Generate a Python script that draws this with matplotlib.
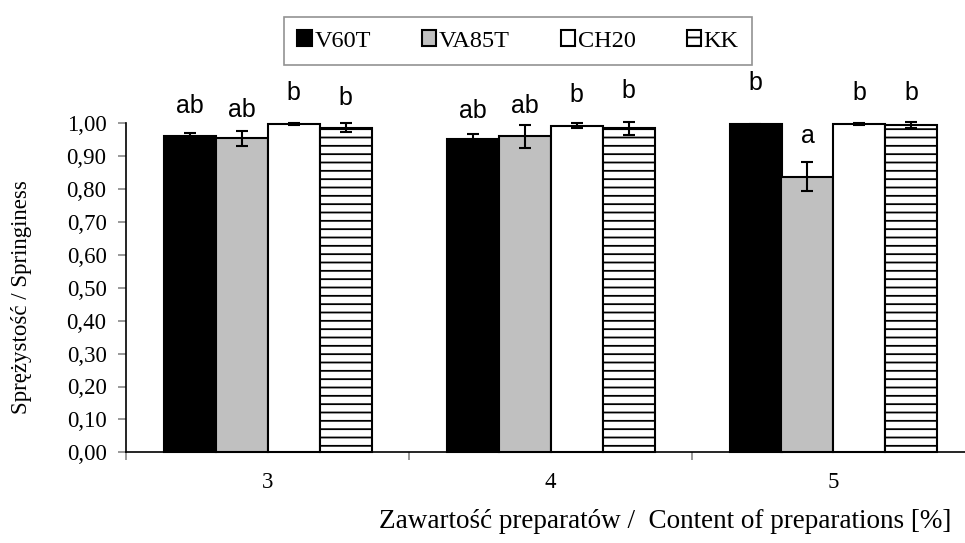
import matplotlib
matplotlib.use("Agg")
import matplotlib.pyplot as plt
import numpy as np

categories = ["3", "4", "5"]
series = ["V60T", "VA85T", "CH20", "KK"]
values = {
    "V60T":  [0.960, 0.952, 0.997],
    "VA85T": [0.954, 0.960, 0.838],
    "CH20":  [0.999, 0.993, 0.998],
    "KK":    [0.987, 0.985, 0.995],
}
errors = {
    "V60T":  [0.011, 0.014, 0.002],
    "VA85T": [0.023, 0.035, 0.043],
    "CH20":  [0.003, 0.008, 0.002],
    "KK":    [0.013, 0.020, 0.008],
}
letters = {
    "V60T":  ["ab", "ab", "b"],
    "VA85T": ["ab", "ab", "a"],
    "CH20":  ["b", "b", "b"],
    "KK":    ["b", "b", "b"],
}
letter_y = {
    "V60T":  [1.016, 1.002, 1.086],
    "VA85T": [1.005, 1.015, 0.924],
    "CH20":  [1.056, 1.049, 1.056],
    "KK":    [1.040, 1.061, 1.056],
}
yticks = [0.0, 0.1, 0.2, 0.3, 0.4, 0.5, 0.6, 0.7, 0.8, 0.9, 1.0]
ytick_labels = ["0,00", "0,10", "0,20", "0,30", "0,40", "0,50", "0,60", "0,70", "0,80", "0,90", "1,00"]

styles = {
    "V60T":  dict(facecolor="black", edgecolor="black", hatch=None),
    "VA85T": dict(facecolor="#c0c0c0", edgecolor="black", hatch=None),
    "CH20":  dict(facecolor="white", edgecolor="black", hatch=None),
    "KK":    dict(facecolor="white", edgecolor="black", hatch="--"),
}

plt.rcParams["hatch.color"] = "#333333"
plt.rcParams["hatch.linewidth"] = 1.3

serif = ["Liberation Serif", "DejaVu Serif"]
sans = ["Liberation Sans", "DejaVu Sans"]

fig = plt.figure(figsize=(9.65, 5.43), dpi=100)
ax = fig.add_axes([126 / 965, 1 - 452.3 / 543, 839 / 965, (452.3 - 123.3) / 543])

w = 52 / 283
x = np.arange(len(categories))
handles = []
for i, s in enumerate(series):
    pos = x + (i - 1.5) * w
    st = styles[s]
    b = ax.bar(pos, values[s], width=w, facecolor=st["facecolor"], edgecolor=st["edgecolor"],
               hatch=st["hatch"], linewidth=1.5, zorder=2, clip_on=False, label=s)
    ax.errorbar(pos, values[s], yerr=errors[s], fmt="none", ecolor="black", elinewidth=1.5,
                capsize=4, capthick=1.5, zorder=3, clip_on=False)
    for j in range(len(categories)):
        ax.text(pos[j], letter_y[s][j], letters[s][j], ha="center", va="bottom",
                fontsize=18, family=sans, clip_on=False)
    handles.append(b)

ax.set_xlim(-0.5, -0.5 + 839 / 283)
ax.set_ylim(0, 1.0)
ax.set_yticks(yticks)
ax.set_yticklabels(ytick_labels, family=serif, fontsize=16.5)
ax.set_xticks(x)
ax.set_xticklabels(categories, family=serif, fontsize=16.5)
ax.set_xticks([-0.5, 0.5, 1.5], minor=True)
ax.tick_params(axis="x", which="major", length=0, pad=14)
ax.tick_params(axis="x", which="minor", length=6, color="#888888", width=1.2, direction="out")
ax.tick_params(axis="y", length=6, color="#888888", width=1.2, direction="out", pad=8)

for sp in ["top", "right"]:
    ax.spines[sp].set_visible(False)
ax.spines["left"].set_linewidth(1.2)
ax.spines["bottom"].set_linewidth(1.2)
ax.spines["left"].set_zorder(4)

fig.text(22 / 965, 1 - 297 / 543, "Sprężystość / Springiness", family=serif, fontsize=16.5,
         rotation=90, ha="center", va="center")
fig.text(665 / 965, 1 - 521 / 543, "Zawartość preparatów /  Content of preparations [%]",
         family=serif, fontsize=19.5, ha="center", va="center")

leg = fig.legend(handles=handles, labels=series, loc="center", ncol=4,
                 bbox_to_anchor=(518 / 965, 1 - 41 / 543),
                 prop={"family": serif, "size": 17.5}, frameon=True, fancybox=False,
                 handlelength=0.6, handleheight=0.6, handletextpad=0.1,
                 columnspacing=2.1, borderpad=0.55)
leg.get_frame().set_edgecolor("#777777")
leg.get_frame().set_linewidth(1.2)

fig.savefig("out.png", dpi=100)
